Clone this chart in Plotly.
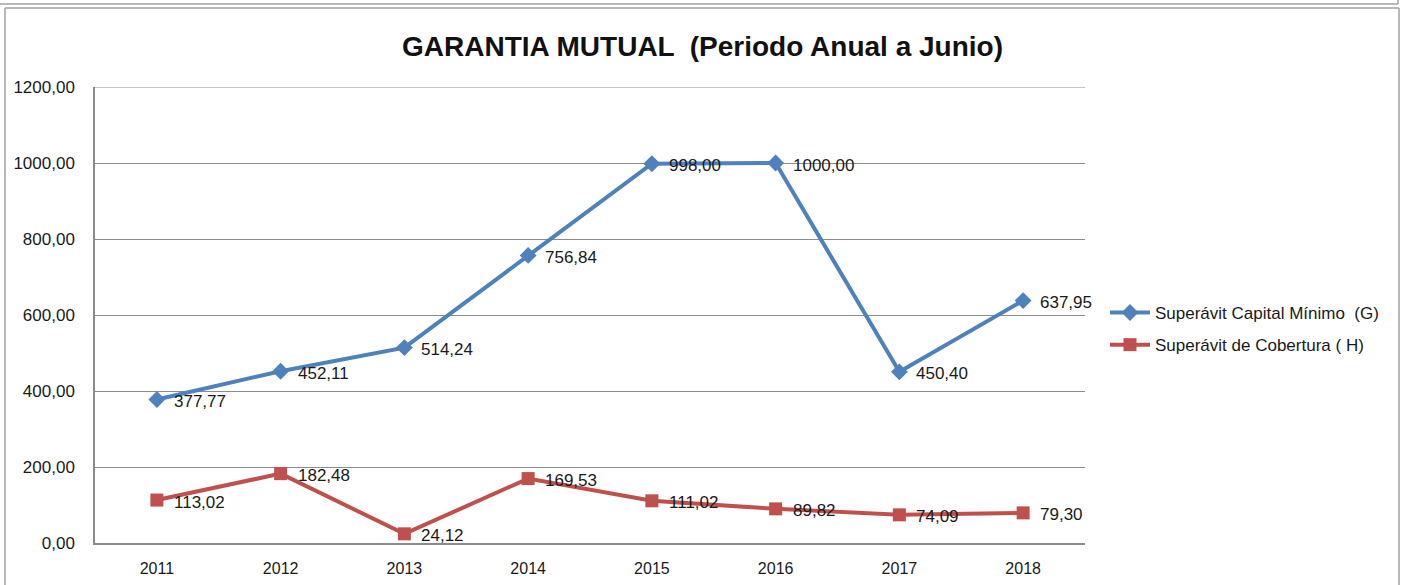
import plotly.graph_objects as go

years = ["2011", "2012", "2013", "2014", "2015", "2016", "2017", "2018"]
capital_minimo = [377.77, 452.11, 514.24, 756.84, 998.00, 1000.00, 450.40, 637.95]
cobertura = [113.02, 182.48, 24.12, 169.53, 111.02, 89.82, 74.09, 79.30]
series_names = ["Superávit Capital Mínimo  (G)", "Superávit de Cobertura ( H)"]
title_text = "GARANTIA MUTUAL  (Periodo Anual a Junio)"

def fmt(v):
    return f"{v:.2f}".replace(".", ",")

FONT = "Liberation Sans, Arial, sans-serif"
BLUE = "#4F81BD"
RED = "#C0504D"
TXT = "#1a1a1a"

fig = go.Figure()
fig.add_trace(go.Scatter(
    x=years, y=capital_minimo, name=series_names[0], legendgroup="g",
    mode="lines+markers",
    line=dict(color=BLUE, width=4),
    marker=dict(symbol="diamond", size=13, color=BLUE),
))
fig.add_trace(go.Scatter(
    x=years, y=cobertura, name=series_names[1], legendgroup="h",
    mode="lines+markers",
    line=dict(color=RED, width=4),
    marker=dict(symbol="square", size=13, color=RED),
))

annotations = []
for series in (capital_minimo, cobertura):
    for i, v in enumerate(series):
        annotations.append(dict(
            x=i, y=v, xref="x", yref="y", text=fmt(v), showarrow=False,
            xanchor="left", yanchor="middle", xshift=15, yshift=-2,
            font=dict(family=FONT, size=17, color=TXT),
        ))

L, R, T, B = 95, 320, 87, 42
W, H = 1405, 585
pw, ph = W - L - R, H - T - B

def px_x(p):
    return (p - L) / pw

def px_y(p):
    return (H - B - p) / ph

FRAME = dict(color="#a0a0a0", width=1.5)
shapes = [
    dict(type="line", xref="paper", yref="paper", x0=px_x(5), x1=px_x(1399), y0=px_y(8), y1=px_y(8), line=FRAME),
    dict(type="line", xref="paper", yref="paper", x0=px_x(5), x1=px_x(5), y0=px_y(8), y1=px_y(600), line=FRAME),
    dict(type="line", xref="paper", yref="paper", x0=px_x(1399), x1=px_x(1399), y0=px_y(8), y1=px_y(600), line=FRAME),
    dict(type="line", xref="paper", yref="paper", x0=px_x(0), x1=px_x(1398), y0=px_y(4), y1=px_y(4), line=FRAME),
    dict(type="line", xref="paper", yref="paper", x0=px_x(1398), x1=px_x(1398), y0=px_y(-5), y1=px_y(4), line=FRAME),
    # top gridline of plot area
    dict(type="line", xref="paper", yref="y", x0=0, x1=1, y0=1200, y1=1200,
         line=dict(color="#8c8c8c", width=1), layer="below"),
]

fig.update_layout(
    width=W, height=H,
    margin=dict(l=L, r=R, t=T, b=B, autoexpand=False),
    paper_bgcolor="white", plot_bgcolor="white",
    title=dict(text=f"<b>{title_text}</b>", x=0.5, xref="container", xanchor="center",
               y=1 - 46 / H, yref="container", yanchor="middle",
               font=dict(family=FONT, size=28, color="#111")),
    separators=",.",
    font=dict(family=FONT, size=17, color=TXT),
    xaxis=dict(type="category", range=[-0.5, 7.5], showgrid=False, showline=True,
               linecolor="#8c8c8c", linewidth=1.5, ticks="", ticklabelstandoff=10,
               automargin=False,
               tickfont=dict(family=FONT, size=16, color=TXT), fixedrange=True),
    yaxis=dict(range=[0, 1200], dtick=200, tickformat=".2f", showgrid=True,
               gridcolor="#8c8c8c", gridwidth=1, showline=True, linecolor="#8c8c8c",
               linewidth=1.5, ticks="", ticklabelstandoff=15, zeroline=False,
               automargin=False,
               tickfont=dict(family=FONT, size=17, color=TXT)),
    legend=dict(x=px_x(1105), xanchor="left", y=px_y(295), yanchor="top",
                font=dict(family=FONT, size=17, color=TXT),
                tracegroupgap=7, itemwidth=40, bgcolor="rgba(0,0,0,0)"),
    showlegend=True,
    shapes=shapes,
    annotations=annotations,
)

fig.write_html("out.html", config={"displayModeBar": False},
               post_script="document.body.style.margin='0';document.body.style.overflow='hidden';")
